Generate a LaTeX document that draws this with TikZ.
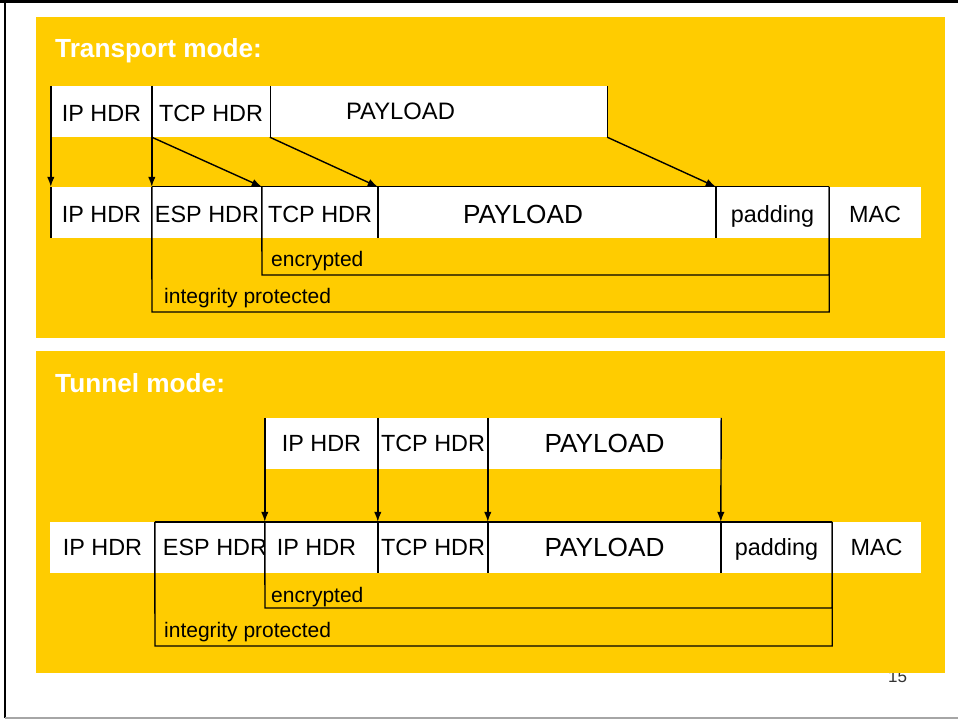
\documentclass[tikz,border=0pt]{standalone}
\usepackage{fontspec}
\setmainfont{Liberation Sans}
\usetikzlibrary{arrows.meta}
\definecolor{panelgold}{HTML}{FFCC00}
\definecolor{framegrey}{HTML}{A6A6A6}
\tikzstyle{field}=[fill=white,inner sep=0pt,minimum height=51pt,text height=16.8pt,text depth=0pt,font=\fontsize{23.4}{28}\selectfont]
\tikzstyle{lowfield}=[field,text height=19.8pt]
\tikzstyle{bigfield}=[field,text height=18.8pt,font=\fontsize{26.2}{31}\selectfont]
\tikzstyle{move}=[-{Latex[length=10pt,width=7.5pt]},line width=1.4pt]
\tikzstyle{rule}=[line width=1.4pt]
\tikzstyle{title}=[anchor=base west,inner sep=0pt,text=white,font=\fontsize{26.2}{31}\selectfont\bfseries]
\tikzstyle{coverage}=[anchor=base west,inner sep=0pt,font=\fontsize{21}{25}\selectfont]

\begin{document}
\begin{tikzpicture}[x=1pt,y=-1pt]
                  \useasboundingbox (0,0) rectangle (958,719);
                  % slide frame
                  \draw [line width=2.5pt] (0,1.5) -- (958,1.5);
                  \draw [line width=2.5pt] (5,0) -- (5,718);
                  \draw [line width=2pt,framegrey] (5,717.5) -- (958,717.5);

                  \fill [panelgold] (36,17) rectangle (945,338);
                  \node (pgno) at (888,682) [anchor=base west,inner sep=0pt,text=black!80,font=\fontsize{17}{20}\selectfont] {15};
                  \fill [panelgold] (36,351) rectangle (945,673);

                  % transport mode
                  \node (trtitle) at (55,58) [title] {Transport mode:};

                  \node (a1) at (101.5,111.5) [lowfield,minimum width=101pt] {IP HDR};
                  \node (a2) at (211,111.5) [lowfield,minimum width=118pt] {TCP HDR};
                  \node (a3) at (438.5,111.5) [field,minimum width=337pt,label={[font=\fontsize{23.8}{28}\selectfont,xshift=-38pt]center:PAYLOAD}] {};

                  \node (b1) at (101.5,212.5) [lowfield,minimum width=101pt] {IP HDR};
                  \node (b2) at (207,212.5) [lowfield,minimum width=110pt] {ESP HDR};
                  \node (b3) at (320,212.5) [lowfield,minimum width=116pt] {TCP HDR};
                  \node (b4) at (547,212.5) [field,minimum width=338pt,label={[font=\fontsize{26.2}{31}\selectfont,xshift=-24pt,yshift=-1.5pt]center:PAYLOAD}] {};
                  \node (b5) at (772.5,212.5) [lowfield,minimum width=113pt] {padding};
                  \node (b6) at (875,212.5) [lowfield,minimum width=92pt] {MAC};

                  \draw [rule] (a2.north east) -- (a2.south east);
                  \draw [rule] (a3.north east) -- (a3.south east);

                  \draw [rule] (b1.north west) -- (b1.south west);
                  \draw [rule] (b2.north west) -- (b5.north east);
                  \draw [rule] (b4.north west) -- (b4.south west);
                  \draw [rule] (b5.north west) -- (b5.south west);

                  \coordinate (trenc) at (262,275);
                  \coordinate (trint) at (152,312);
                  \draw [rule] (b3.north west) -- (trenc) -| (b5.north east);
                  \draw [rule] (b2.north west) -- (trint) -| (b5.north east);
                  \node (trenctext) at (271,267) [coverage] {encrypted};
                  \node (trinttext) at (164,303) [coverage] {integrity protected};

                  \draw [move] (a1.north west) -- (b1.north west);
                  \draw [move] (a2.north west) -- (b2.north west);
                  \draw [move] (a2.south west) -- (b3.north west);
                  \draw [move] (a3.south west) -- (b4.north west);
                  \draw [move] (a3.south east) -- (b5.north west);

                  % tunnel mode
                  \node (tutitle) at (55,392) [title] {Tunnel mode:};

                  \node (c1) at (321.5,443.5) [field,minimum width=113pt] {IP HDR};
                  \node (c2) at (433,443.5) [field,minimum width=110pt] {TCP HDR};
                  \node (c3) at (604.5,443.5) [bigfield,minimum width=233pt] {PAYLOAD};

                  \node (d1) at (102.5,547.5) [field,minimum width=105pt] {IP HDR};
                  \node (d2) at (210,547.5) [field,minimum width=110pt,label={[font=\fontsize{23.4}{28}\selectfont,xshift=5pt]center:ESP HDR}] {};
                  \node (d3) at (321.5,547.5) [field,minimum width=113pt,label={[font=\fontsize{23.4}{28}\selectfont,xshift=-5pt]center:IP HDR}] {};
                  \node (d4) at (433,547.5) [field,minimum width=110pt] {TCP HDR};
                  \node (d5) at (604.5,547.5) [bigfield,minimum width=233pt] {PAYLOAD};
                  \node (d6) at (776.5,547.5) [field,minimum width=111pt] {padding};
                  \node (d7) at (876.5,547.5) [field,minimum width=89pt] {MAC};

                  \draw [rule] (d2.north west) -- (d6.north east);
                  \draw [rule] (d4.north west) -- (d4.south west);
                  \draw [rule] (d5.north west) -- (d5.south west);
                  \draw [rule] (d6.north west) -- (d6.south west);

                  \coordinate (tuenc) at (265,608);
                  \coordinate (tuint) at (155,646);
                  \draw [rule] (d3.north west) -- (tuenc) -| (d6.north east);
                  \draw [rule] (d2.north west) -- (tuint) -| (d6.north east);
                  \node (tuenctext) at (271,602) [coverage] {encrypted};
                  \node (tuinttext) at (164,637) [coverage] {integrity protected};

                  \draw [move] (c1.north west) -- (d3.north west);
                  \draw [move] (c2.north west) -- (d4.north west);
                  \draw [move] (c3.north west) -- (d5.north west);
                  \draw [move] (c3.north east) -- (d6.north west);
              \end{tikzpicture}
\end{document}
